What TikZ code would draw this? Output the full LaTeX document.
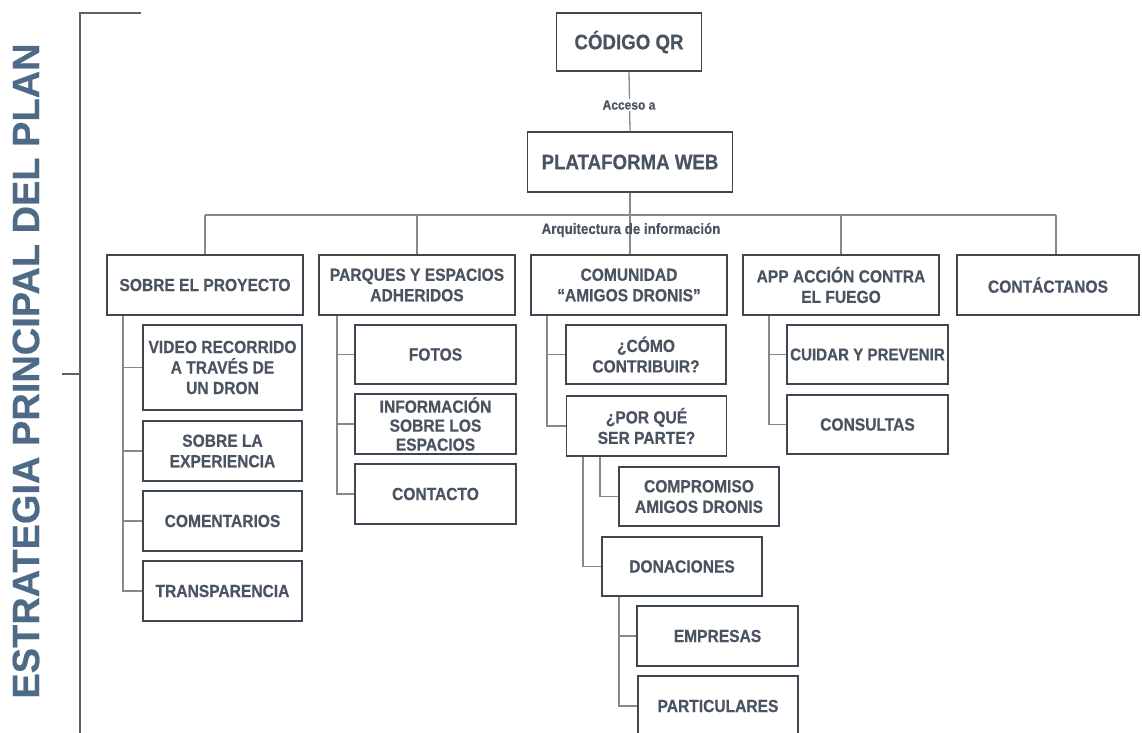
\documentclass[tikz,border=0pt]{standalone}
\usepackage{fontspec}
\setmainfont{Liberation Sans}[BoldFeatures={FakeBold=0.5}]
\newfontfamily\hv{Liberation Sans}[FakeStretch=0.89, BoldFeatures={FakeBold=0.5}]
\definecolor{txt}{HTML}{4A5461}
\definecolor{boxln}{HTML}{3E4651}
\definecolor{conn}{HTML}{85898E}
\definecolor{ttl}{HTML}{4E6A86}
\definecolor{brk}{HTML}{5B6169}
\tikzset{
  card/.style={draw=boxln, line width=1.8pt, inner sep=0pt, align=center,
    text=txt, fill=white, font=\hv\bfseries\fontsize{17.5}{20.5}\selectfont},
  headcard/.style={card, font=\hv\bfseries\fontsize{21}{24}\selectfont},
  link/.style={draw=conn, line width=1.3pt},
  tag/.style={text=txt, inner sep=1pt, font=\hv\bfseries\fontsize{13.5}{15}\selectfont},
  brace/.style={draw=brk, line width=1.5pt},
}
\begin{document}
\begin{tikzpicture}[x=1pt, y=-1pt]
\useasboundingbox (0,0) rectangle (1142,732);

% side title and bracket
\node[text=ttl, rotate=90, font=\bfseries\fontsize{38}{40}\selectfont, inner sep=0pt] (ttl) at (26,371) {ESTRATEGIA PRINCIPAL DEL PLAN};
\coordinate (bt) at (80,13);
\coordinate (br) at (141,13);
\coordinate (bb) at (80,745);
\coordinate (tk) at (62,374);
\draw[brace] (br) -- (bt) -- (bb);
\draw[brace] (tk) -- (tk -| bt);

% bus and trunk coordinates
\coordinate (busL) at (205,215);
\coordinate (busR) at (1056,215);
\coordinate (t1) at (123,0);
\coordinate (t2) at (337,0);
\coordinate (t3) at (547,0);
\coordinate (t4) at (769,0);
\coordinate (t5) at (583,0);
\coordinate (t6) at (600,0);
\coordinate (t7) at (619,0);

% connectors first, boxes drawn on top
\draw[link] (busL) -- (busR);

% top chain
\node[headcard, minimum width=145pt, minimum height=58pt] (qr) at (629,42) {CÓDIGO QR};
\node[headcard, minimum width=205pt, minimum height=60pt] (web) at (630,162) {PLATAFORMA WEB};

% level one
\node[card, minimum width=196pt, minimum height=60pt] (sobre) at (205,285) {SOBRE EL PROYECTO};
\node[card, minimum width=196pt, minimum height=60pt] (parq) at (417,285) {PARQUES Y ESPACIOS\\ADHERIDOS};
\node[card, minimum width=196pt, minimum height=60pt] (comu) at (629,285) {COMUNIDAD\\“AMIGOS DRONIS”};
\node[card, minimum width=196pt, minimum height=60pt] (app) at (841,285) {APP ACCIÓN CONTRA\\EL FUEGO};
\node[card, minimum width=182pt, minimum height=60pt] (cont) at (1048,285) {CONTÁCTANOS};

% sobre el proyecto
\node[card, minimum width=159pt, minimum height=85pt] (video) at (222.5,367.5) {VIDEO RECORRIDO\\A TRAVÉS DE\\UN DRON};
\node[card, minimum width=159pt, minimum height=60pt] (exper) at (222.5,451) {SOBRE LA\\EXPERIENCIA};
\node[card, minimum width=159pt, minimum height=60pt] (coment) at (222.5,521) {COMENTARIOS};
\node[card, minimum width=159pt, minimum height=60pt] (transp) at (222.5,591) {TRANSPARENCIA};

% parques
\node[card, minimum width=161pt, minimum height=59pt] (fotos) at (435.5,354.5) {FOTOS};
\node[card, minimum width=161pt, minimum height=60pt, font=\hv\bfseries\fontsize{17.5}{19}\selectfont] (info) at (435.5,424) {INFORMACIÓN\\SOBRE LOS\\ESPACIOS};
\node[card, minimum width=161pt, minimum height=60pt] (contacto) at (435.5,494) {CONTACTO};

% comunidad
\node[card, minimum width=160pt, minimum height=59pt] (como) at (646,354.5) {¿CÓMO\\CONTRIBUIR?};
\node[card, minimum width=160pt, minimum height=60pt] (porque) at (646.5,426) {¿POR QUÉ\\SER PARTE?};
\node[card, minimum width=160pt, minimum height=59pt] (compro) at (699,496.5) {COMPROMISO\\AMIGOS DRONIS};
\node[card, minimum width=160pt, minimum height=59pt] (donac) at (682,566.5) {DONACIONES};
\node[card, minimum width=161pt, minimum height=60pt] (empre) at (717.5,636) {EMPRESAS};
\node[card, minimum width=160pt, minimum height=60pt] (parti) at (718,706) {PARTICULARES};

% app
\node[card, minimum width=161pt, minimum height=59pt, font=\hv\bfseries\fontsize{17}{20}\selectfont] (cuidar) at (867.5,354.5) {CUIDAR Y PREVENIR};
\node[card, minimum width=161pt, minimum height=59pt] (consul) at (867.5,424.5) {CONSULTAS};

% links between levels
\draw[link] (qr.south) -- (web.north);
\node[tag, fill=white] (acc) at (629,105) {Acceso a};
\draw[link] (web.south) -- (web.south |- comu.north);
\draw[link] (busL) -- (sobre.north);
\draw[link] (busL -| parq.north) -- (parq.north);
\draw[link] (busL -| app.north) -- (app.north);
\draw[link] (busR) -- (busR |- cont.north);
\node[tag, font=\hv\bfseries\fontsize{15}{17}\selectfont] (arq) at (631,230) {Arquitectura de información};

% sobre el proyecto branches
\draw[link] (sobre.south -| t1) |- (transp.west);
\draw[link] (video.west -| t1) -- (video.west);
\draw[link] (exper.west -| t1) -- (exper.west);
\draw[link] (coment.west -| t1) -- (coment.west);

% parques branches
\draw[link] (parq.south -| t2) |- (contacto.west);
\draw[link] (fotos.west -| t2) -- (fotos.west);
\draw[link] (info.west -| t2) -- (info.west);

% comunidad branches
\draw[link] (comu.south -| t3) |- (porque.west);
\draw[link] (como.west -| t3) -- (como.west);
\draw[link] (porque.south -| t5) |- (donac.west);
\draw[link] (porque.south -| t6) |- (compro.west);
\draw[link] (donac.south -| t7) |- (parti.west);
\draw[link] (empre.west -| t7) -- (empre.west);

% app branches
\draw[link] (app.south -| t4) |- (consul.west);
\draw[link] (cuidar.west -| t4) -- (cuidar.west);
\end{tikzpicture}
\end{document}
